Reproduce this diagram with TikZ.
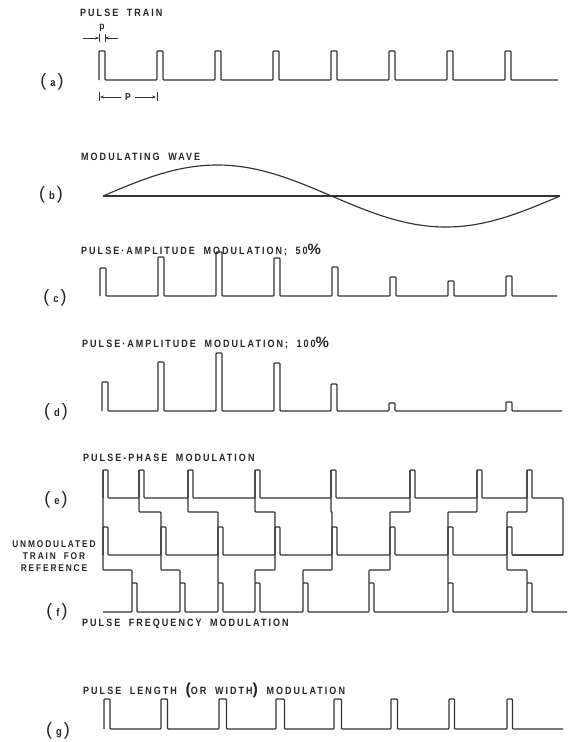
\documentclass[tikz,border=0pt]{standalone}
\usepackage{fontspec}
\usetikzlibrary{arrows.meta}
\newfontfamily\hand[FakeStretch=0.85,LetterSpace=19,WordSpace=1.9]{Liberation Sans}
\newfontfamily\parenfont{Liberation Sans}
\newcommand\ptag[1]{{\parenfont\fontsize{18}{18}\selectfont(}\hspace{4pt}{\hand\bfseries\fontsize{11}{11}\selectfont #1}\hspace{2pt}{\parenfont\fontsize{18}{18}\selectfont)}}
\newcommand\bigpct{{\parenfont\fontsize{15}{15}\selectfont\%}}
\newcommand\bigpar[1]{{\parenfont\fontsize{16}{16}\selectfont #1}}
\tikzset{
  sig/.style={line width=1.15pt, draw=black!80, rounded corners=0.8pt, line join=round},
  lab/.style={font=\hand\bfseries\fontsize{10.6}{12}\selectfont, anchor=west, inner sep=0pt, text=black!85},
  tagnode/.style={inner sep=0pt, text=black!85},
  dim/.style={line width=0.8pt, draw=black!80},
  dimtip/.style={-{Stealth[length=4pt,width=3pt]}}
}
\begin{document}
\begin{tikzpicture}[x=1pt,y=-1pt]
\useasboundingbox (0,0) rectangle (568,742);
% ---------------- (a) pulse train
\node[lab] (ta) at (80,13) {PULSE TRAIN};
\node[tagnode] (ga) at (52,82) {\ptag{a}};
\draw[sig] (99,80) \foreach \x/\n in {99/157,157/215,215/273,273/331,331/389,389/447,447/505,505/558}
  { -- (\x,80) -- (\x,51) -- (\x+6,51) -- (\x+6,80) -- (\n,80) };
% small p dimension
\node[lab,anchor=center,font=\hand\bfseries\fontsize{10}{10}\selectfont] (sp) at (102,28) {p};
\coordinate (spl) at (99,38);
\coordinate (spr) at (105,38);
\coordinate (spl0) at (83,38);
\coordinate (spr0) at (118,38);
\draw[dim] (99,34) -- (99,42);
\draw[dim] (105,34) -- (105,42);
\draw[dim,dimtip] (spl0) -- (spl);
\draw[dim,dimtip] (spr0) -- (spr);
% big P dimension
\node[lab,anchor=center,font=\hand\bfseries\fontsize{10}{10}\selectfont] (bp) at (128,97) {P};
\coordinate (bpl) at (100,97);
\coordinate (bpr) at (156,97);
\draw[dim] (99,92) -- (99,101);
\draw[dim] (157,92) -- (157,101);
\draw[dim,dimtip] ([xshift=-4pt]bp.west) -- (bpl);
\draw[dim,dimtip] ([xshift=4pt]bp.east) -- (bpr);
% ---------------- (b) modulating wave
\node[lab] (tb) at (81,157) {MODULATING WAVE};
\node[tagnode] (gb) at (51,195) {\ptag{b}};
\draw[sig] (103,196) -- (560,196);
\draw[sig] plot[domain=103:560,samples=120,smooth] (\x,{196-31*sin((\x-103)/457*360)});
% ---------------- (c) PAM 50%
\node[lab] (tc) at (81,250) {PULSE·AMPLITUDE MODULATION; 50\bigpct};
\node[tagnode] (gc) at (55,298) {\ptag{c}};
\draw[sig] (100,296) \foreach \x/\h/\n in {100/28/158,158/39/216,216/44/274,274/38/332,332/29/390,390/19/448,448/15/506,506/20/557}
  { -- (\x,296) -- (\x,296-\h) -- (\x+6,296-\h) -- (\x+6,296) -- (\n,296) };
% ---------------- (d) PAM 100%
\node[lab] (td) at (82,343) {PULSE·AMPLITUDE MODULATION; 100\bigpct};
\node[tagnode] (gd) at (56,412) {\ptag{d}};
\draw[sig] (102,411) \foreach \x/\h/\n in {102/29/158,158/49/216,216/58/274,274/48/331,331/27/389,389/8/506,506/9/562}
  { -- (\x,411) -- (\x,411-\h) -- (\x+6,411-\h) -- (\x+6,411) -- (\n,411) };
% ---------------- (e) PPM, reference, (f) PFM
\node[lab] (te) at (83,458) {PULSE-PHASE MODULATION};
\node[tagnode] (ge) at (56,500) {\ptag{e}};
\node[lab,anchor=center,align=center,font=\hand\bfseries\fontsize{9.8}{12}\selectfont] (tr) at (54,556) {UNMODULATED\\TRAIN FOR\\REFERENCE};
\node[tagnode] (gf) at (57,612) {\ptag{f}};
\node[lab] (tf) at (82,624) {PULSE FREQUENCY MODULATION};
% top row (PPM)
\draw[sig] (103,498) \foreach \x/\n in {103/139,139/188,188/255,255/331,331/410,410/477,477/527}
  { -- (\x,470) -- (\x+5,470) -- (\x+5,498) -- (\n,498) } -- (527,470) -- (532,470) -- (532,498) -- (563,498) -- (563,555) -- (512,555);
% middle row (reference)
\draw[sig] (103,555) \foreach \x/\n in {103/161,161/218,218/275,275/332,332/390,390/448,448/507,507/563}
  { -- (\x,527) -- (\x+5,527) -- (\x+5,555) -- (\n,555) };
% bottom row (PFM)
\draw[sig] (103,612) \foreach \x/\n in {132/180,180/218,218/255,255/303,303/369,369/448,448/527,527/567}
  { -- (\x,612) -- (\x,583) -- (\x+5,583) -- (\x+5,612) -- (\n,612) };
% linking steps
\foreach \t/\m/\b in {103/103/132,139/161/180,188/218/218,255/275/255,331/332/303,410/390/369,477/448/448,527/507/527}
  \draw[sig] (\t,470) -- (\t,512) -- (\m,512) -- (\m,570) -- (\b,570) -- (\b,583);
% ---------------- (g) PWM
\node[lab] (tg) at (83,690) {PULSE LENGTH \bigpar{(}OR WIDTH\bigpar{)} MODULATION};
\node[tagnode] (gg) at (58,731) {\ptag{g}};
\draw[sig] (104,729) \foreach \x/\w/\n in {104/6/161,161/6.5/219,219/7.5/276,276/8.5/334,334/7.5/391,391/6.5/449,449/5.5/507,507/5.5/563}
  { -- (\x,729) -- (\x,699) -- (\x+\w,699) -- (\x+\w,729) -- (\n,729) };
\end{tikzpicture}
\end{document}
